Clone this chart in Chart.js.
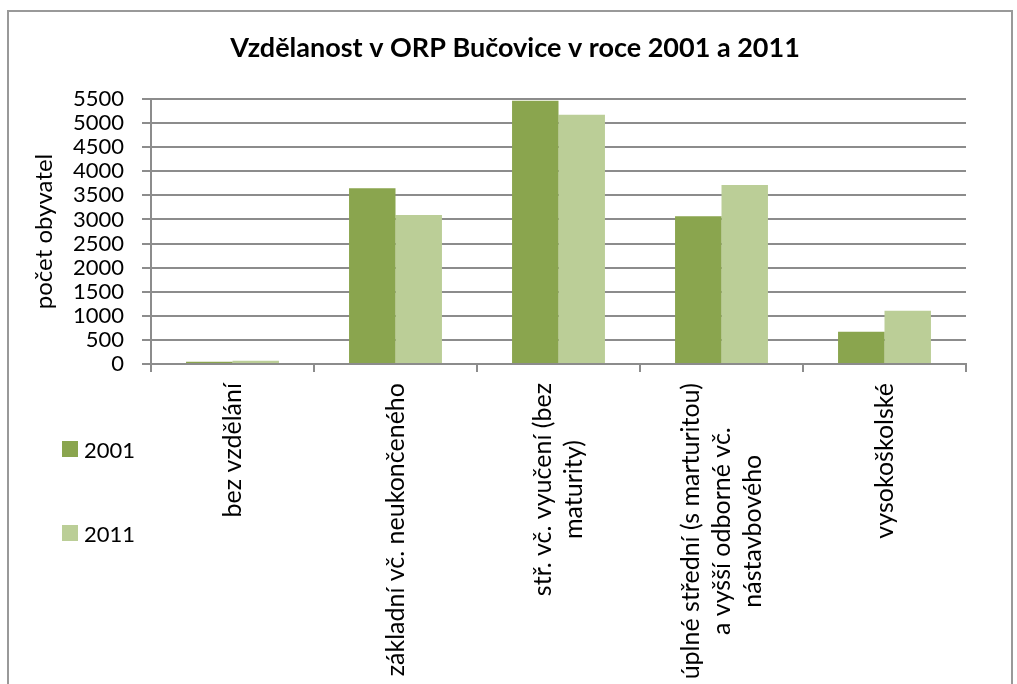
<!DOCTYPE html>
<html lang="cs">
<head>
<meta charset="utf-8">
<title>Vzdělanost v ORP Bučovice</title>
<script src="https://cdn.jsdelivr.net/npm/chart.js@4/dist/chart.umd.min.js"></script>
<style>
  html, body { margin: 0; padding: 0; background: #fff; }
  #obal { position: relative; width: 1017px; height: 684px; overflow: hidden; }
  #ramecek { position: absolute; left: 7px; top: 10px; width: 1002px; height: 700px;
             border-left: 2px solid #999; border-top: 2px solid #999; border-right: 2px solid #999; }
  canvas { position: absolute; left: 0; top: 0; }
  .legenda { position: absolute; left: 62px; font: 22px Lato, sans-serif; color: #000;
             display: flex; align-items: center; height: 24px; }
  .legenda span { display: inline-block; width: 16px; height: 16px; margin-right: 6px; }
</style>
</head>
<body>
<div id="obal">
  <div id="ramecek"></div>
  <canvas id="graf" width="1017" height="684"></canvas>
  <div class="legenda" style="top:437px"><span style="background:#8aa54e"></span>2001</div>
  <div class="legenda" style="top:521px"><span style="background:#bbce97"></span>2011</div>
</div>
<script>
// --- data ---
const kategorie = [
    ['bez vzdělání'],
    ['základní vč. neukončeného'],
    ['stř. vč. vyučení (bez', 'maturity)'],
    ['úplné střední (s marturitou)', 'a vyšší odborné vč.', 'nástavbového'],
    ['vysokoškolské']
];
const rok2001 = [45, 3650, 5465, 3065, 670];
const rok2011 = [65, 3090, 5175, 3715, 1105];

const SEDA = '#8c8c8c';

// popisky kategorií otočené zdola nahoru, zarovnané k ose
const popiskyOsyX = {
    id: 'popiskyOsyX',
    afterDraw(chart) {
        const ctx = chart.ctx;
        const osa = chart.scales.x;
        const radek = 31;
        ctx.save();
        ctx.font = '25px Lato, sans-serif';
        ctx.fillStyle = '#000';
        ctx.textAlign = 'center';
        ctx.textBaseline = 'middle';
        chart.data.labels.forEach((lines, i) => {
            const x = osa.getPixelForValue(i);
            const sirka = Math.max(...lines.map(l => ctx.measureText(l).width));
            ctx.save();
            ctx.translate(x, osa.top + 19);
            ctx.rotate(-Math.PI / 2);
            lines.forEach((l, j) => {
                ctx.fillText(l, -sirka / 2, (j - (lines.length - 1) / 2) * radek);
            });
            ctx.restore();
        });
        ctx.restore();
    }
};

new Chart(document.getElementById('graf'), {
    type: 'bar',
    data: {
        labels: kategorie,
        datasets: [
            { label: '2001', data: rok2001, backgroundColor: '#8aa54e' },
            { label: '2011', data: rok2011, backgroundColor: '#bbce97' }
        ]
    },
    options: {
        responsive: false,
        animation: false,
        categoryPercentage: 0.57,
        barPercentage: 1,
        layout: { padding: { left: 13, right: 0, top: 0, bottom: 0 } },
        plugins: {
            legend: { display: false },
            tooltip: { enabled: false },
            title: {
                display: true,
                text: 'Vzdělanost v ORP Bučovice v roce 2001 a 2011',
                color: '#000',
                font: { family: 'Lato', size: 27, weight: 'bold', lineHeight: 1.2 },
                padding: { top: 32, bottom: 34.6 }
            }
        },
        scales: {
            x: {
                ticks: { display: false },
                grid: { drawOnChartArea: false, drawTicks: true, tickLength: 8, color: SEDA, lineWidth: 2 },
                border: { color: SEDA, width: 2 },
                afterFit: s => { s.height = 320; }
            },
            y: {
                min: 0,
                max: 5500,
                ticks: {
                    stepSize: 500,
                    autoSkip: false,
                    padding: 18,
                    color: '#000',
                    font: { family: 'Lato', size: 22 },
                    callback: v => String(v)
                },
                grid: { color: SEDA, lineWidth: 2, tickLength: 9 },
                border: { color: SEDA, width: 2 },
                title: {
                    display: true,
                    text: 'počet obyvatel',
                    color: '#000',
                    font: { family: 'Lato', size: 24 },
                    padding: { top: 17, bottom: 0 }
                },
                afterFit: s => { s.width = 138; }
            },
            prave: {
                position: 'right',
                ticks: { display: false },
                grid: { display: false },
                border: { display: false },
                afterFit: s => { s.width = 51; }
            }
        }
    },
    plugins: [popiskyOsyX]
});
</script>
</body>
</html>
